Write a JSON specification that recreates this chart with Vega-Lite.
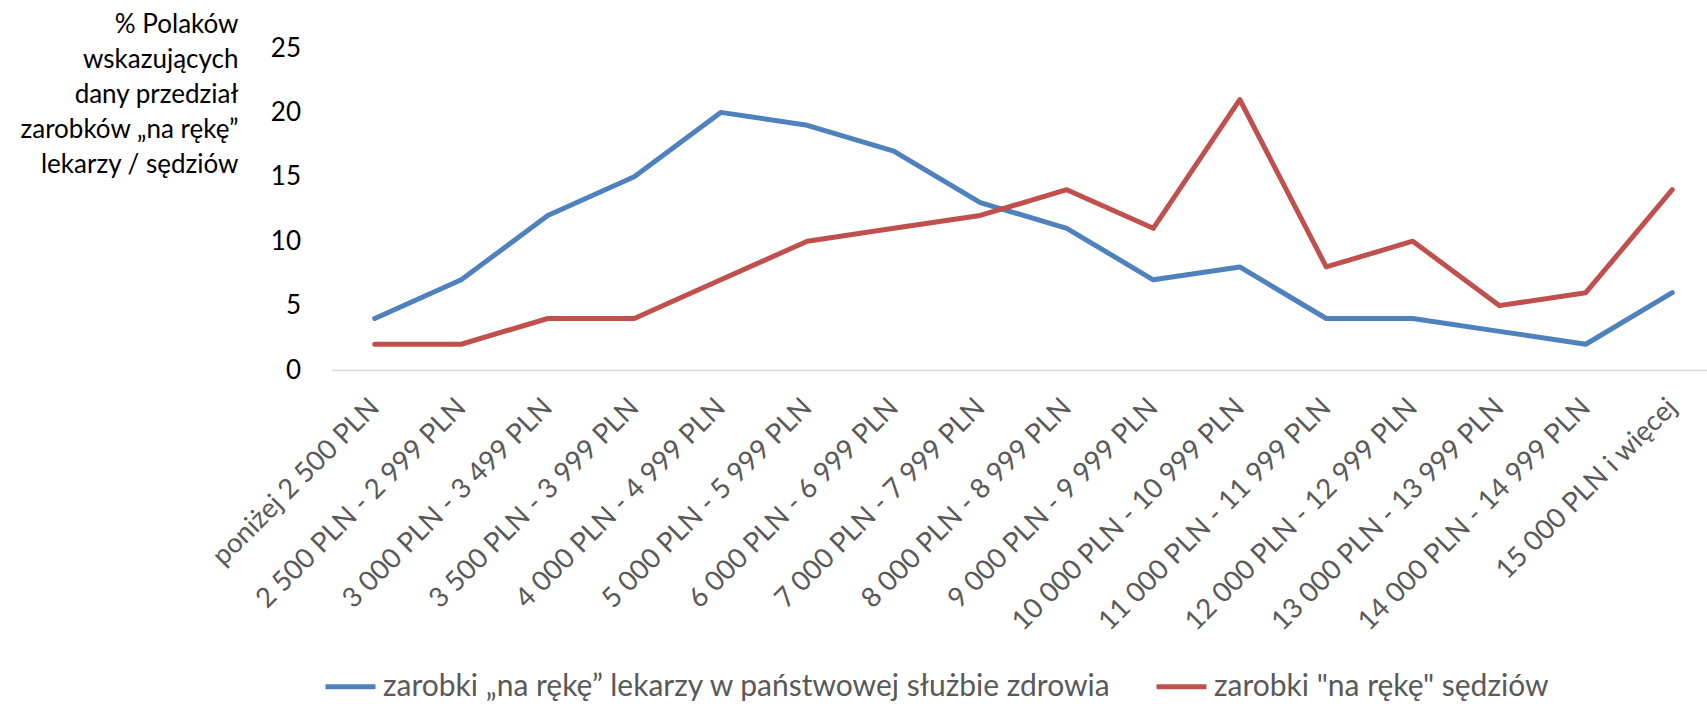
{
  "$schema": "https://vega.github.io/schema/vega-lite/v6.json",
  "width": 1384,
  "height": 322,
  "autosize": {"type": "none"},
  "padding": {"left": 331.5, "top": 48, "right": 0, "bottom": 334},
  "background": "white",
  "config": {
    "view": {"stroke": null},
    "font": "Lato"
  },
  "data": {
    "values": [
      {"przedzial": "poniżej 2 500 PLN", "seria": "zarobki „na rękę” lekarzy w państwowej służbie zdrowia", "proc": 4},
      {"przedzial": "2 500 PLN - 2 999 PLN", "seria": "zarobki „na rękę” lekarzy w państwowej służbie zdrowia", "proc": 7},
      {"przedzial": "3 000 PLN - 3 499 PLN", "seria": "zarobki „na rękę” lekarzy w państwowej służbie zdrowia", "proc": 12},
      {"przedzial": "3 500 PLN - 3 999 PLN", "seria": "zarobki „na rękę” lekarzy w państwowej służbie zdrowia", "proc": 15},
      {"przedzial": "4 000 PLN - 4 999 PLN", "seria": "zarobki „na rękę” lekarzy w państwowej służbie zdrowia", "proc": 20},
      {"przedzial": "5 000 PLN - 5 999 PLN", "seria": "zarobki „na rękę” lekarzy w państwowej służbie zdrowia", "proc": 19},
      {"przedzial": "6 000 PLN - 6 999 PLN", "seria": "zarobki „na rękę” lekarzy w państwowej służbie zdrowia", "proc": 17},
      {"przedzial": "7 000 PLN - 7 999 PLN", "seria": "zarobki „na rękę” lekarzy w państwowej służbie zdrowia", "proc": 13},
      {"przedzial": "8 000 PLN - 8 999 PLN", "seria": "zarobki „na rękę” lekarzy w państwowej służbie zdrowia", "proc": 11},
      {"przedzial": "9 000 PLN - 9 999 PLN", "seria": "zarobki „na rękę” lekarzy w państwowej służbie zdrowia", "proc": 7},
      {"przedzial": "10 000 PLN - 10 999 PLN", "seria": "zarobki „na rękę” lekarzy w państwowej służbie zdrowia", "proc": 8},
      {"przedzial": "11 000 PLN - 11 999 PLN", "seria": "zarobki „na rękę” lekarzy w państwowej służbie zdrowia", "proc": 4},
      {"przedzial": "12 000 PLN - 12 999 PLN", "seria": "zarobki „na rękę” lekarzy w państwowej służbie zdrowia", "proc": 4},
      {"przedzial": "13 000 PLN - 13 999 PLN", "seria": "zarobki „na rękę” lekarzy w państwowej służbie zdrowia", "proc": 3},
      {"przedzial": "14 000 PLN - 14 999 PLN", "seria": "zarobki „na rękę” lekarzy w państwowej służbie zdrowia", "proc": 2},
      {"przedzial": "15 000 PLN i więcej", "seria": "zarobki „na rękę” lekarzy w państwowej służbie zdrowia", "proc": 6},
      {"przedzial": "poniżej 2 500 PLN", "seria": "zarobki \"na rękę\" sędziów", "proc": 2},
      {"przedzial": "2 500 PLN - 2 999 PLN", "seria": "zarobki \"na rękę\" sędziów", "proc": 2},
      {"przedzial": "3 000 PLN - 3 499 PLN", "seria": "zarobki \"na rękę\" sędziów", "proc": 4},
      {"przedzial": "3 500 PLN - 3 999 PLN", "seria": "zarobki \"na rękę\" sędziów", "proc": 4},
      {"przedzial": "4 000 PLN - 4 999 PLN", "seria": "zarobki \"na rękę\" sędziów", "proc": 7},
      {"przedzial": "5 000 PLN - 5 999 PLN", "seria": "zarobki \"na rękę\" sędziów", "proc": 10},
      {"przedzial": "6 000 PLN - 6 999 PLN", "seria": "zarobki \"na rękę\" sędziów", "proc": 11},
      {"przedzial": "7 000 PLN - 7 999 PLN", "seria": "zarobki \"na rękę\" sędziów", "proc": 12},
      {"przedzial": "8 000 PLN - 8 999 PLN", "seria": "zarobki \"na rękę\" sędziów", "proc": 14},
      {"przedzial": "9 000 PLN - 9 999 PLN", "seria": "zarobki \"na rękę\" sędziów", "proc": 11},
      {"przedzial": "10 000 PLN - 10 999 PLN", "seria": "zarobki \"na rękę\" sędziów", "proc": 21},
      {"przedzial": "11 000 PLN - 11 999 PLN", "seria": "zarobki \"na rękę\" sędziów", "proc": 8},
      {"przedzial": "12 000 PLN - 12 999 PLN", "seria": "zarobki \"na rękę\" sędziów", "proc": 10},
      {"przedzial": "13 000 PLN - 13 999 PLN", "seria": "zarobki \"na rękę\" sędziów", "proc": 5},
      {"przedzial": "14 000 PLN - 14 999 PLN", "seria": "zarobki \"na rękę\" sędziów", "proc": 6},
      {"przedzial": "15 000 PLN i więcej", "seria": "zarobki \"na rękę\" sędziów", "proc": 14}
    ]
  },
  "mark": {"type": "line", "strokeWidth": 5, "strokeCap": "round", "strokeJoin": "round"},
  "encoding": {
    "x": {
      "field": "przedzial",
      "type": "nominal",
      "sort": null,
      "scale": {"type": "point", "padding": 0.5},
      "axis": {
        "title": null,
        "labelAngle": -45,
        "labelAlign": "right",
        "labelBaseline": "middle",
        "labelFontSize": 27.5,
        "labelColor": "#595959",
        "labelPadding": 33,
        "labelLimit": 1000,
        "ticks": false,
        "domainColor": "#d9d9d9",
        "domainWidth": 1.5,
        "grid": false,
        "labelOverlap": false
      }
    },
    "y": {
      "field": "proc",
      "type": "quantitative",
      "scale": {"domain": [0, 25]},
      "axis": {
        "values": [0, 5, 10, 15, 20, 25],
        "domain": false,
        "ticks": false,
        "grid": false,
        "labelFontSize": 26,
        "labelColor": "#000000",
        "labelPadding": 31,
        "title": ["% Polaków", "wskazujących", "dany przedział", "zarobków „na rękę”", "lekarzy / sędziów"],
        "titleAngle": 0,
        "titleAlign": "right",
        "titleBaseline": "alphabetic",
        "titleX": -93.5,
        "titleY": -16,
        "titleFontSize": 26,
        "titleFontWeight": "normal",
        "titleColor": "#000000",
        "titleLineHeight": 35
      }
    },
    "color": {
      "field": "seria",
      "type": "nominal",
      "sort": null,
      "scale": {
        "domain": ["zarobki „na rękę” lekarzy w państwowej służbie zdrowia", "zarobki \"na rękę\" sędziów"],
        "range": ["#4F81BD", "#C0504D"]
      },
      "legend": {
        "title": null,
        "orient": "none",
        "direction": "horizontal",
        "legendX": -8.5,
        "legendY": 611,
        "padding": 0,
        "symbolType": "stroke",
        "symbolSize": 2500,
        "symbolStrokeWidth": 5,
        "labelFontSize": 30,
        "labelColor": "#595959",
        "labelOffset": 5,
        "columnPadding": 34,
        "labelLimit": 1000
      }
    }
  }
}
